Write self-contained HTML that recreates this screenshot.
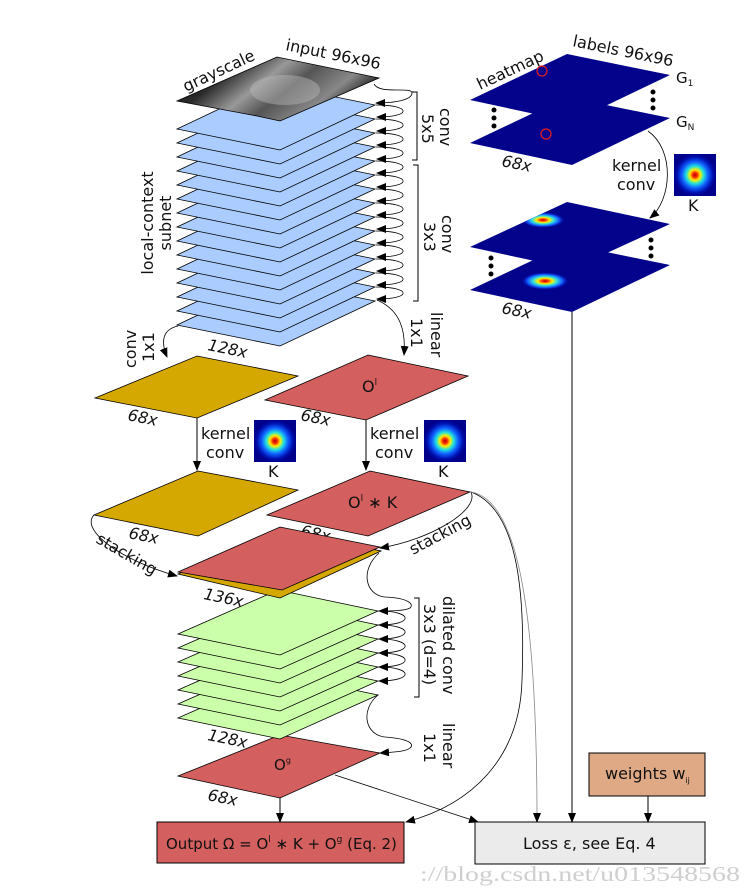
<!DOCTYPE html>
<html><head><meta charset="utf-8"><style>
html,body{margin:0;padding:0;background:#fff}
svg{display:block}
text{font-family:"DejaVu Sans","Liberation Sans",sans-serif;fill:#111}
</style></head><body>
<svg width="751" height="893" viewBox="0 0 751 893" xmlns="http://www.w3.org/2000/svg">
<defs>
<marker id="ah" markerWidth="10" markerHeight="8" refX="9" refY="4" orient="auto" markerUnits="userSpaceOnUse">
<path d="M0,0 L10,4 L0,8 Z" fill="#000"/></marker>
<radialGradient id="gk">
<stop offset="0" stop-color="#b00000"/><stop offset="0.12" stop-color="#ff3000"/>
<stop offset="0.25" stop-color="#ffee00"/><stop offset="0.42" stop-color="#20e0e0"/>
<stop offset="0.62" stop-color="#1060ff"/><stop offset="0.85" stop-color="#0010b0"/>
<stop offset="1" stop-color="#00008b"/></radialGradient>
<radialGradient id="gh">
<stop offset="0" stop-color="#c00000"/><stop offset="0.15" stop-color="#ff4000"/>
<stop offset="0.3" stop-color="#ffee00"/><stop offset="0.5" stop-color="#30e0e0"/>
<stop offset="0.75" stop-color="#1050ff"/><stop offset="1" stop-color="#00008b" stop-opacity="0"/></radialGradient>
<linearGradient id="face" x1="0" y1="0" x2="1" y2="0.4">
<stop offset="0" stop-color="#111"/><stop offset="0.3" stop-color="#2a2a2a"/>
<stop offset="0.5" stop-color="#999"/><stop offset="0.65" stop-color="#555"/><stop offset="0.85" stop-color="#888"/><stop offset="1" stop-color="#222"/></linearGradient>
<clipPath id="hc"><polygon points="470,247 567,202 670,224 572,269"/></clipPath>
<clipPath id="hc2"><polygon points="470,290 567,244 670,265 572,312"/></clipPath>
<clipPath id="fc"><polygon points="177,101 277,57 379,78 280,121 257,116"/></clipPath>
</defs>

<!-- blue layers -->
<g fill="#aaccff" stroke="#000" stroke-width="0.8">
<polygon points="177,325 272,280 375,301 280,346"/>
<polygon points="177,311 272,266 375,287 280,332"/>
<polygon points="177,297 272,252 375,273 280,318"/>
<polygon points="177,283 272,238 375,259 280,304"/>
<polygon points="177,269 272,224 375,245 280,290"/>
<polygon points="177,255 272,210 375,231 280,276"/>
<polygon points="177,241 272,196 375,217 280,262"/>
<polygon points="177,227 272,182 375,203 280,248"/>
<polygon points="177,213 272,168 375,189 280,234"/>
<polygon points="177,199 272,154 375,175 280,220"/>
<polygon points="177,185 272,140 375,161 280,206"/>
<polygon points="177,171 272,126 375,147 280,192"/>
<polygon points="177,157 272,112 375,133 280,178"/>
<polygon points="177,143 272,98 375,119 280,164"/>
<polygon points="177,129 272,84 375,105 280,150"/>
</g>
<!-- grayscale image on top -->
<polygon points="177,101 277,57 379,78 280,121 257,116" fill="url(#face)" stroke="#000" stroke-width="0.8"/>
<ellipse cx="285" cy="90" rx="35" ry="15" fill="#bbb" opacity="0.45" clip-path="url(#fc)"/>
<text transform="translate(186,92) rotate(-25)" font-size="16">grayscale</text>
<text transform="translate(285,50) rotate(11.5)" font-size="16">input 96x96</text>

<!-- loops on blue -->
<g fill="none" stroke="#000" stroke-width="0.8" marker-end="url(#ah)">
<path d="M374,84 C380,95 412,86 412,93 C412,100 395,103 376,103"/>
<path d="M376,105 C412,105 412,117 377,117"/>
<path d="M376,119 C412,119 412,131 377,131"/>
<path d="M376,133 C412,133 412,145 377,145"/>
<path d="M376,147 C412,147 412,159 377,159"/>
<path d="M376,161 C412,161 412,173 377,173"/>
<path d="M376,175 C412,175 412,187 377,187"/>
<path d="M376,189 C412,189 412,201 377,201"/>
<path d="M376,203 C412,203 412,215 377,215"/>
<path d="M376,217 C412,217 412,229 377,229"/>
<path d="M376,231 C412,231 412,243 377,243"/>
<path d="M376,245 C412,245 412,257 377,257"/>
<path d="M376,259 C412,259 412,271 377,271"/>
<path d="M376,273 C412,273 412,285 377,285"/>
<path d="M376,287 C412,287 412,299 377,299"/>
</g>
<path d="M412,92 H417 V160 H412 M413,165 H418 V301 H413" fill="none" stroke="#000" stroke-width="1"/>
<text transform="translate(440,108) rotate(90)" font-size="16">conv</text>
<text transform="translate(422,114) rotate(90)" font-size="16">5x5</text>
<text transform="translate(442,215) rotate(90)" font-size="16">conv</text>
<text transform="translate(424,222) rotate(90)" font-size="16">3x3</text>
<text transform="translate(153,223) rotate(-90)" font-size="16" text-anchor="middle">local-context</text>
<text transform="translate(171,223) rotate(-90)" font-size="16" text-anchor="middle">subnet</text>
<text transform="translate(207,350) rotate(11.5)" font-size="16" font-style="italic">128x</text>

<!-- conv 1x1 / linear 1x1 arrows -->
<path d="M178,326 C160,330 162,345 167,357" fill="none" stroke="#000" stroke-width="0.8" marker-end="url(#ah)"/>
<text transform="translate(136,368) rotate(-90)" font-size="16">conv</text>
<text transform="translate(154,362) rotate(-90)" font-size="16">1x1</text>
<path d="M377,300 C400,310 406,330 404,355" fill="none" stroke="#000" stroke-width="0.8" marker-end="url(#ah)"/>
<text transform="translate(431,312) rotate(90)" font-size="16">linear</text>
<text transform="translate(411,318) rotate(90)" font-size="16">1x1</text>

<!-- yellow1, red O^l -->
<polygon points="95,398 197,356 298,376 197,418" fill="#d4a800" stroke="#000" stroke-width="0.8"/>
<text transform="translate(127,420) rotate(11.5)" font-size="16" font-style="italic">68x</text>
<polygon points="265,400 368,355 468,376 366,420" fill="#d45f5f" stroke="#000" stroke-width="0.8"/>
<text x="362" y="392" font-size="16">O<tspan font-size="9" dy="-7">l</tspan></text>
<text transform="translate(300,420) rotate(11.5)" font-size="16" font-style="italic">68x</text>

<!-- kernel conv arrows -->
<line x1="197" y1="418" x2="197" y2="470" stroke="#000" stroke-width="1" marker-end="url(#ah)"/>
<text x="201" y="439" font-size="16">kernel</text><text x="206" y="458" font-size="16">conv</text>
<rect x="254" y="420" width="42" height="42" fill="url(#gk)"/>
<text x="268" y="477" font-size="16">K</text>
<line x1="366" y1="420" x2="366" y2="470" stroke="#000" stroke-width="1" marker-end="url(#ah)"/>
<text x="370" y="439" font-size="16">kernel</text><text x="375" y="458" font-size="16">conv</text>
<rect x="424" y="420" width="42" height="42" fill="url(#gk)"/>
<text x="438" y="477" font-size="16">K</text>

<!-- yellow2, red2 -->
<polygon points="94,515 198,471 298,490 198,536" fill="#d4a800" stroke="#000" stroke-width="0.8"/>
<text transform="translate(128,538) rotate(11.5)" font-size="16" font-style="italic">68x</text>
<polygon points="267,515 370,471 470,492 368,536" fill="#d45f5f" stroke="#000" stroke-width="0.8"/>
<text x="348" y="508" font-size="16">O<tspan font-size="9" dy="-7">l</tspan><tspan dy="7"> ∗ K</tspan></text>
<text transform="translate(300,536) rotate(11.5)" font-size="16" font-style="italic">68x</text>

<!-- O^g -->
<polygon points="178,776 280,735 380,753 280,798" fill="#d45f5f" stroke="#000" stroke-width="0.8"/>
<text x="274" y="770" font-size="15">O<tspan font-size="8" dy="-7">g</tspan></text>
<text transform="translate(207,800) rotate(11.5)" font-size="16" font-style="italic">68x</text>

<!-- green layers -->
<g fill="#ccffaa" stroke="#000" stroke-width="0.8">
<polygon points="178,718 278,674 378,695 280,739"/>
<polygon points="178,704 278,660 378,681 280,725"/>
<polygon points="178,690 278,646 378,667 280,711"/>
<polygon points="178,676 278,632 378,653 280,697"/>
<polygon points="178,662 278,618 378,639 280,683"/>
<polygon points="178,648 278,604 378,625 280,669"/>
<polygon points="178,634 278,590 378,611 280,655"/>
</g>
<text transform="translate(207,740) rotate(11.5)" font-size="16" font-style="italic">128x</text>

<!-- stack 136x -->
<polygon points="178,574 280,530 381,551 280,598" fill="#d4a800" stroke="#000" stroke-width="0.8"/>
<polygon points="178,572 280,527 380,547 282,590" fill="#d45f5f" stroke="#000" stroke-width="0.8"/>
<text transform="translate(203,599) rotate(11.5)" font-size="16" font-style="italic">136x</text>

<!-- stacking arrows -->
<path d="M94,515 C80,530 120,560 177,576" fill="none" stroke="#000" stroke-width="0.8" marker-end="url(#ah)"/>
<text transform="translate(95,542) rotate(30)" font-size="16">stacking</text>
<path d="M471,492 C480,510 430,540 380,548" fill="none" stroke="#000" stroke-width="0.8" marker-end="url(#ah)"/>
<text transform="translate(413,555) rotate(-28)" font-size="16">stacking</text>

<!-- loops green -->
<g fill="none" stroke="#000" stroke-width="0.8" marker-end="url(#ah)">
<path d="M379,553 C360,570 365,595 385,597 C410,598 414,605 410,608 C405,611 390,611 379,611"/>
<path d="M378,611 C414,611 414,625 379,625"/>
<path d="M378,625 C414,625 414,639 379,639"/>
<path d="M378,639 C414,639 414,653 379,653"/>
<path d="M378,653 C414,653 414,667 379,667"/>
<path d="M378,667 C414,667 414,681 379,681"/>
<path d="M378,695 C360,710 365,735 385,737 C412,739 414,745 410,748 C405,752 392,752 380,753"/>
</g>
<path d="M414,598 H419 V697 H414" fill="none" stroke="#000" stroke-width="1"/>
<text transform="translate(443,596) rotate(90)" font-size="16">dilated conv</text>
<text transform="translate(424,604) rotate(90)" font-size="16">3x3 (d=4)</text>
<text transform="translate(443,723) rotate(90)" font-size="16">linear</text>
<text transform="translate(424,733) rotate(90)" font-size="16">1x1</text>

<!-- curves from red2 to output / loss -->
<g fill="none" stroke="#000" stroke-width="0.8">
<path d="M471,492 C520,510 525,600 522,680 C520,760 470,805 406,822" marker-end="url(#ah)"/>
<path d="M471,492 C520,500 537,620 537,822" stroke="#888" marker-end="url(#ah)"/>
<path d="M335,775 L478,822" marker-end="url(#ah)"/>
</g>
<line x1="280" y1="798" x2="280" y2="822" stroke="#000" stroke-width="1" marker-end="url(#ah)"/>

<!-- output / loss / weights -->
<rect x="157" y="822" width="247" height="41" fill="#d45f5f" stroke="#000" stroke-width="1"/>
<text x="166" y="849" font-size="15">Output Ω = O<tspan font-size="9" dy="-7">l</tspan><tspan dy="7"> ∗ K + O</tspan><tspan font-size="9" dy="-7">g</tspan><tspan dy="7"> (Eq. 2)</tspan></text>
<rect x="475" y="822" width="230" height="42" fill="#ebebeb" stroke="#000" stroke-width="1"/>
<text x="523" y="849" font-size="16">Loss ε, see Eq. 4</text>
<rect x="589" y="753" width="116" height="43" fill="#e0a986" stroke="#000" stroke-width="1"/>
<text x="605" y="779" font-size="16">weights w<tspan font-size="8" dy="4">ij</tspan></text>
<line x1="648" y1="796" x2="648" y2="822" stroke="#000" stroke-width="1" marker-end="url(#ah)"/>
<line x1="572" y1="312" x2="572" y2="822" stroke="#000" stroke-width="1" marker-end="url(#ah)"/>

<!-- heatmaps top -->
<polygon points="470,143 567,97 670,118 572,165" fill="#03038c"/>
<polygon points="470,100 567,54 670,75 572,122" fill="#03038c"/>
<circle cx="542" cy="71" r="5" fill="none" stroke="#e02020" stroke-width="1.2"/>
<circle cx="546" cy="134" r="5" fill="none" stroke="#e02020" stroke-width="1.2"/>
<text transform="translate(480,90) rotate(-25)" font-size="16">heatmap</text>
<text transform="translate(572,46) rotate(11.5)" font-size="16">labels 96x96</text>
<text x="676" y="83" font-size="15">G<tspan font-size="9" dy="3">1</tspan></text>
<text x="676" y="127" font-size="15">G<tspan font-size="9" dy="3">N</tspan></text>
<g fill="#000"><circle cx="653" cy="92" r="2.5"/><circle cx="653" cy="100" r="2.5"/><circle cx="653" cy="108" r="2.5"/>
<circle cx="494" cy="110" r="2.5"/><circle cx="494" cy="118" r="2.5"/><circle cx="494" cy="126" r="2.5"/>
<circle cx="651" cy="240" r="2.5"/><circle cx="651" cy="248" r="2.5"/><circle cx="651" cy="256" r="2.5"/>
<circle cx="491" cy="258" r="2.5"/><circle cx="491" cy="266" r="2.5"/><circle cx="491" cy="274" r="2.5"/></g>
<text transform="translate(501,166) rotate(11.5)" font-size="16" font-style="italic">68x</text>
<path d="M648,131 C675,150 672,200 650,218" fill="none" stroke="#000" stroke-width="0.8" marker-end="url(#ah)"/>
<text x="612" y="171" font-size="16">kernel</text><text x="617" y="190" font-size="16">conv</text>
<rect x="674" y="154" width="42" height="42" fill="url(#gk)"/>
<text x="688" y="211" font-size="16">K</text>

<!-- heatmaps bottom -->
<polygon points="470,290 567,244 670,265 572,312" fill="#03038c"/>
<ellipse cx="545" cy="281" rx="24" ry="9" fill="url(#gh)" clip-path="url(#hc2)"/>
<polygon points="470,247 567,202 670,224 572,269" fill="#03038c"/>
<ellipse cx="543" cy="220" rx="22" ry="8" fill="url(#gh)" clip-path="url(#hc)"/>
<text transform="translate(501,313) rotate(11.5)" font-size="16" font-style="italic">68x</text>

<text x="420" y="881" font-size="21" textLength="320" lengthAdjust="spacingAndGlyphs" style="font-family:'Liberation Serif',serif;fill:#cfcfcf">://blog.csdn.net/u013548568</text>
</svg>
</body></html>
